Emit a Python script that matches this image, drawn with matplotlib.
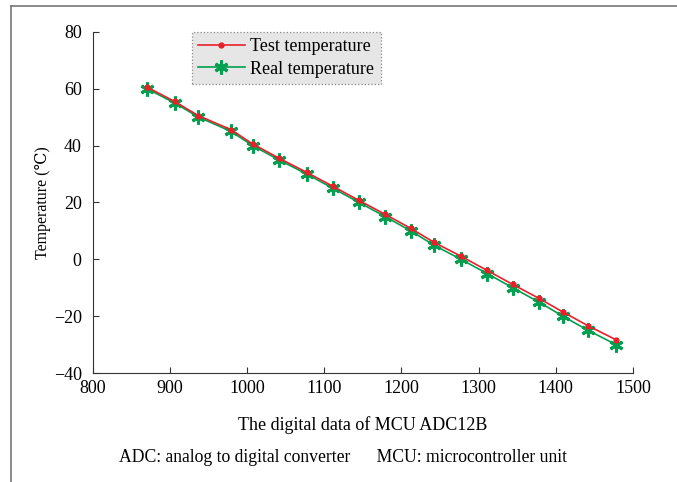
import numpy as np
import matplotlib.pyplot as plt
from matplotlib.lines import Line2D

# ADC readings and temperatures
adc = [870, 906, 937, 979, 1007, 1041, 1077, 1111, 1145, 1179,
       1212, 1242, 1277, 1311, 1344, 1378, 1409, 1442, 1478]
real_temp = [60, 55, 50, 45, 40, 35, 30, 25, 20, 15,
             10, 5, 0, -5, -10, -15, -20, -25, -30]
test_temp = [60.6, 55.5, 50.5, 45.6, 40.6, 35.6, 30.6, 25.7, 20.7, 15.8,
             10.9, 6.0, 1.1, -3.9, -8.8, -13.7, -18.5, -23.4, -28.3]

xticks = [800, 900, 1000, 1100, 1200, 1300, 1400, 1500]
yticks = [-40, -20, 0, 20, 40, 60, 80]

plt.rcParams['font.family'] = ['Liberation Serif', 'DejaVu Serif']
plt.rcParams['font.size'] = 13

fig = plt.figure(figsize=(6.77, 4.82), dpi=100)
ax = fig.add_axes([0.137, 0.226, 0.798, 0.708])

red = '#e8202a'
green = '#00a050'

ax.plot(adc, test_temp, color=red, lw=1.2, marker='o', ms=3.5,
        label='Test temperature', zorder=3)
ax.plot(adc, real_temp, color=green, lw=1.2, marker=(6, 2, 0), ms=10,
        mew=2.2, label='Real temperature', zorder=2)

ax.set_xlim(800, 1500)
ax.set_ylim(-40, 80)
ax.set_xticks(xticks)
ax.set_yticks(yticks)
ax.set_yticklabels([str(v).replace('-', '\u2212') for v in yticks])
ax.tick_params(direction='in', length=4, width=0.8, color='#333333')
ax.tick_params(axis='x', pad=5)
ax.tick_params(axis='y', pad=8)

for s in ['top', 'right']:
    ax.spines[s].set_visible(False)
for s in ['left', 'bottom']:
    ax.spines[s].set_color('#333333')
    ax.spines[s].set_linewidth(0.8)

ax.set_ylabel('Temperature (\u2103)', fontsize=11.5)
ax.yaxis.set_label_coords(-0.078, 0.5)
ax.set_xlabel('The digital data of MCU ADC12B', labelpad=14)

leg = ax.legend(loc='upper left', bbox_to_anchor=(0.183, 1.0),
                fancybox=False, frameon=True, handlelength=2.6,
                borderpad=0.35, labelspacing=0.3, handletextpad=0.3,
                borderaxespad=0.0, fontsize=13)
leg.get_frame().set_facecolor('#e6e6e6')
leg.get_frame().set_edgecolor('#888888')
leg.get_frame().set_linestyle(':')
leg.get_frame().set_linewidth(0.9)
leg.get_frame().set_alpha(1)

fig.text(0.507, 0.05,
         'ADC: analog to digital converter      MCU: microcontroller unit',
         ha='center', va='center', fontsize=12.7)

# partial outer frame (top and left edges)
fig.add_artist(Line2D([0.016, 1.0], [0.987, 0.987], transform=fig.transFigure,
                      color='#777777', lw=1.2))
fig.add_artist(Line2D([0.016, 0.016], [0.0, 0.987], transform=fig.transFigure,
                      color='#777777', lw=1.2))

fig.savefig('out.png', dpi=100)
